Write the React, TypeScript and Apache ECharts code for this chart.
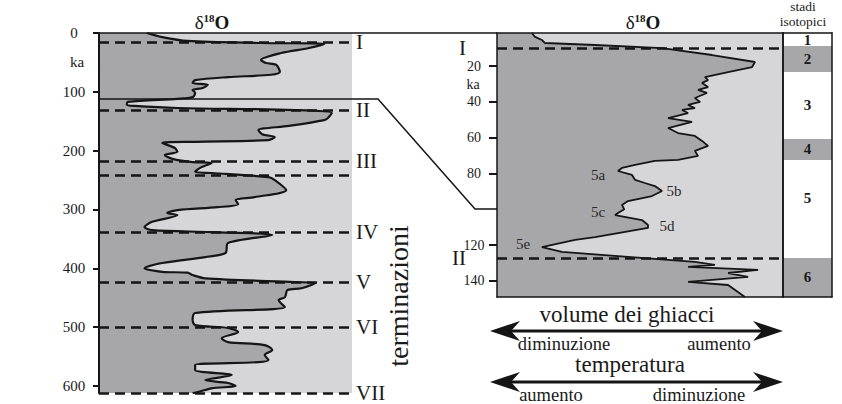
import React, { useEffect, useRef } from 'react';
import * as echarts from 'echarts';

// ---- Data: left panel (0–612 ka) δ18O curve, x = relative δ18O (0–100), y = age (ka)
const leftDelta = [19, 25, 35, 64, 89, 83, 72, 64, 66, 70, 71.5, 68, 51, 38, 37, 43, 41, 37, 38, 37, 31, 11.5, 11, 14, 31, 77.5, 92, 90.5, 89, 75, 63, 64.5, 69.5, 67, 38, 25, 30, 31, 26, 29, 37, 44.5, 40.5, 38, 44.5, 67, 69.5, 74, 61.5, 54, 55, 47, 31, 27, 31, 21, 18, 21, 44.5, 68.5, 51, 50, 42, 25, 18, 25, 35, 37, 42, 77.5, 85.5, 80, 74.5, 73.5, 71, 73.5, 38, 37, 38, 51, 55, 48.5, 51, 65.5, 68.5, 65.5, 67, 63, 38, 38, 52.5, 42, 51, 54, 44.5, 39, 37];
const leftAge = [0, 7, 13.5, 17, 18.7, 25.5, 34, 46, 51, 54, 66, 71, 75, 80, 85, 88, 93.5, 97, 102, 109, 112, 117, 122, 124, 127.5, 131, 136, 144.5, 148, 158, 165, 172, 177, 182, 185, 187, 195.5, 202, 207.5, 214, 219.5, 221, 228, 236, 238, 245, 250, 267, 279, 284, 291, 296, 301, 306, 309.5, 321, 330, 335, 338.5, 343.5, 357, 374, 381, 391, 400, 406, 407.5, 411.5, 417, 423.5, 425, 434, 437, 449, 454, 466, 476, 488, 496.5, 501.5, 508.5, 519, 525.5, 530.5, 539, 547.5, 556, 559.5, 564.5, 573, 581.5, 590, 595, 600, 604, 610.5, 612];
const leftTicks = [0, 100, 200, 300, 400, 500, 600];
const leftTermNames = ['I', 'II', 'III', '', 'IV', 'V', 'VI', 'VII'];
const leftTermAges = [15.3, 131, 218, 241.5, 338, 423.5, 500, 612];

// ---- Data: right panel (last ~150 ka)
const rightDelta = [12.2, 13.3, 15.7, 16.8, 34.3, 57.7, 75.2, 90.2, 89.2, 80.8, 72.7, 73.8, 71.7, 73.8, 70.3, 73.4, 69.2, 71.0, 66.8, 69.2, 64.7, 66.8, 59.8, 68.2, 59.8, 63.3, 69.2, 71.7, 73.8, 69.2, 70.3, 63.3, 55.2, 48.3, 43.7, 42.3, 47.2, 48.3, 51.7, 55.2, 57.7, 54.2, 45.8, 43.7, 44.5, 42.3, 41.3, 50.7, 52.8, 52.8, 34.3, 27.3, 15.7, 22.7, 45.8, 69.2, 76.2, 66.8, 91.3, 80.8, 87.8, 66.8, 80.8, 86.7];
const rightAge = [1.5, 3.7, 5.4, 7.1, 8.2, 9.9, 13.8, 17.7, 20.5, 23.3, 26.1, 27.8, 29.4, 31.7, 33.3, 35.0, 37.8, 40.0, 41.7, 43.4, 44.5, 46.2, 49.0, 51.2, 54.6, 57.4, 59.0, 61.8, 64.6, 67.4, 70.2, 72.4, 73.0, 75.2, 76.9, 78.6, 80.8, 83.6, 85.3, 87.0, 89.8, 92.6, 95.4, 97.6, 100.0, 102.1, 103.2, 106.0, 108.8, 110.4, 115.5, 117.1, 121.1, 123.8, 126.6, 129.4, 131.1, 132.2, 133.9, 135.6, 137.8, 140.6, 142.3, 149];
const rightTicks = [20, 40, 60, 80, 120, 140];
const rightTermNames = ['I', 'II'];
const rightTermAges = [9.9, 127.2];
const substageNames = ['5a', '5b', '5c', '5d', '5e'];
const substageDelta = [35.3, 61.9, 35.3, 59.4, 9.1];
const substageAge = [80.8, 89.8, 101.5, 109.3, 119.4];

// ---- Data: isotope stages
const stageNames = ['1', '2', '3', '4', '5', '6'];
const stageStart = [1.5, 8.8, 23.3, 60.7, 72.4, 127.2];
const stageEnd = [8.8, 23.3, 60.7, 72.4, 127.2, 149];
const stageShaded = [false, true, false, true, false, true];

const SERIF = 'Liberation Serif';
const DARK = '#a7a7a9';
const LIGHT = '#d6d6d8';
const INK = '#151515';

function fillSeries(xi: number, yi: number, deltas: number[], ages: number[]) {
  return {
    type: 'custom',
    xAxisIndex: xi,
    yAxisIndex: yi,
    silent: true,
    z: 1,
    data: [[0, ages[0]]],
    renderItem: (_p: any, api: any) => {
      const pts = deltas.map((d, i) => api.coord([d, ages[i]]));
      pts.push(api.coord([0, ages[ages.length - 1]]));
      pts.push(api.coord([0, ages[0]]));
      return { type: 'polygon', shape: { points: pts }, style: { fill: DARK, stroke: 'none' } };
    },
  };
}

function borderAxis(grid: number, pos: string) {
  return {
    type: 'value',
    gridIndex: grid,
    position: pos,
    min: 0,
    max: 1,
    z: 6,
    axisLine: { show: true, onZero: false, lineStyle: { color: INK, width: 1.5 } },
    axisTick: { show: false },
    axisLabel: { show: false },
    splitLine: { show: false },
  } as any;
}

const ttl = (x: number) => ({
  type: 'text',
  x,
  y: 22,
  z: 100,
  style: {
    text: '{a|δ}{b|18}{c|O}',
    align: 'center',
    verticalAlign: 'middle',
    textAlign: 'center',
    textVerticalAlign: 'middle',
    fill: INK,
    fontFamily: SERIF,
    rich: {
      a: { fontFamily: SERIF, fontSize: 19, fill: INK, color: INK },
      b: { fontFamily: SERIF, fontSize: 11, fontWeight: 'bold', verticalAlign: 'top', fill: INK, color: INK },
      c: { fontFamily: SERIF, fontSize: 19, fontWeight: 'bold', fill: INK, color: INK },
    },
  },
});

const txt = (text: string, x: number, y: number, size: number, extra: any = {}) => ({
  type: 'text',
  x,
  y,
  z: 100,
  ...extra,
  style: {
    text,
    font: `${size}px ${SERIF}`,
    fontFamily: SERIF,
    fontSize: size,
    fill: '#1a1a1a',
    align: 'center',
    verticalAlign: 'middle',
    textAlign: 'center',
    textVerticalAlign: 'middle',
  },
});

const arrow = (y: number) => [
  { type: 'line', z: 100, shape: { x1: 505, y1: y, x2: 768, y2: y }, style: { stroke: INK, lineWidth: 3 } },
  { type: 'polygon', z: 100, shape: { points: [[490, y], [520, y - 10], [511, y], [520, y + 10]] }, style: { fill: INK } },
  { type: 'polygon', z: 100, shape: { points: [[783, y], [753, y - 10], [762, y], [753, y + 10]] }, style: { fill: INK } },
];

export default function App() {
  const ref = useRef<HTMLDivElement>(null);
  useEffect(() => {
    document.body.style.margin = '0';
    const chart = echarts.init(ref.current!, null, { renderer: 'svg' });
    const option: any = {
      animation: false,
      textStyle: { fontFamily: SERIF },
      grid: [
        { left: 99, top: 33, width: 253, height: 360, show: true, backgroundColor: LIGHT, borderWidth: 0 },
        { left: 497, top: 33, width: 286, height: 264, show: true, backgroundColor: LIGHT, borderWidth: 0 },
        { left: 783, top: 33, width: 49, height: 264, show: true, backgroundColor: '#ffffff', borderWidth: 0 },
      ],
      xAxis: [
        { type: 'value', gridIndex: 0, min: 0, max: 100, show: false },
        { ...borderAxis(1, 'bottom'), max: 100 },
        borderAxis(1, 'top'),
        borderAxis(2, 'bottom'),
        borderAxis(2, 'top'),
      ],
      yAxis: [
        {
          type: 'value', gridIndex: 0, min: 0, max: 612, inverse: true, z: 6,
          axisLine: { show: true, onZero: false, lineStyle: { color: INK, width: 2 } },
          axisTick: { show: true, length: 6, lineStyle: { color: INK, width: 2 }, customValues: leftTicks },
          axisLabel: { customValues: leftTicks, fontFamily: SERIF, fontSize: 15, color: '#1a1a1a', align: 'center', margin: 25 },
          splitLine: { show: false },
        },
        {
          type: 'value', gridIndex: 1, min: 1.5, max: 149, inverse: true, z: 6,
          axisLine: { show: true, onZero: false, lineStyle: { color: INK, width: 1.5 } },
          axisTick: { show: true, length: 8, lineStyle: { color: INK, width: 2 }, customValues: rightTicks },
          axisLabel: { customValues: rightTicks, fontFamily: SERIF, fontSize: 14, color: '#1a1a1a', align: 'center', margin: 23 },
          splitLine: { show: false },
        },
        borderAxis(1, 'right'),
        { ...borderAxis(2, 'left'), min: 1.5, max: 149, inverse: true },
        borderAxis(2, 'right'),
      ],
      series: [
        fillSeries(0, 0, leftDelta, leftAge),
        {
          type: 'line', xAxisIndex: 0, yAxisIndex: 0, z: 3, silent: true,
          data: leftDelta.map((d, i) => [d, leftAge[i]]),
          smooth: 0.3, symbol: 'none', showSymbol: false,
          lineStyle: { color: INK, width: 2.2 },
          markLine: {
            silent: true, symbol: ['none', 'none'], animation: false,
            lineStyle: { color: INK, type: [10, 6], width: 2.5 },
            label: { show: true, position: 'end', formatter: '{b}', fontFamily: SERIF, fontSize: 21, color: '#1a1a1a', distance: 4 },
            emphasis: { disabled: true },
            data: leftTermAges.map((a, i) => ({ yAxis: a, name: leftTermNames[i] })),
          },
        },
        fillSeries(1, 1, rightDelta, rightAge),
        {
          type: 'line', xAxisIndex: 1, yAxisIndex: 1, z: 3, silent: true,
          data: rightDelta.map((d, i) => [d, rightAge[i]]),
          symbol: 'none', showSymbol: false,
          lineStyle: { color: INK, width: 1.8 },
          markLine: {
            silent: true, symbol: ['none', 'none'], animation: false,
            lineStyle: { color: INK, type: [10, 6], width: 2.5 },
            label: { show: true, position: 'start', formatter: '{b}', fontFamily: SERIF, fontSize: 21, color: '#1a1a1a', distance: 31 },
            emphasis: { disabled: true },
            data: rightTermAges.map((a, i) => ({ yAxis: a, name: rightTermNames[i] })),
          },
          markPoint: {
            silent: true, symbol: 'circle', symbolSize: 1, animation: false,
            itemStyle: { color: 'rgba(0,0,0,0)' },
            label: { show: true, position: 'inside', formatter: '{b}', fontFamily: SERIF, fontSize: 15, color: '#2a2a2a' },
            data: substageNames.map((n, i) => ({ name: n, coord: [substageDelta[i], substageAge[i]] })),
          },
        },
        {
          type: 'line', xAxisIndex: 3, yAxisIndex: 3, silent: true, z: 2,
          data: [[0.5, 1.5]], symbol: 'none', showSymbol: false, lineStyle: { width: 0 },
          markArea: {
            silent: true, animation: false,
            label: { show: true, position: 'inside', formatter: '{b}', fontFamily: SERIF, fontSize: 15, fontWeight: 'bold', color: '#1a1a1a' },
            emphasis: { disabled: true },
            data: stageNames.map((n, i) => [
              {
                name: n,
                yAxis: stageStart[i],
                itemStyle: { color: stageShaded[i] ? DARK : 'rgba(255,255,255,0)' },
                label: n === '5' ? { offset: [0, -11] } : undefined,
              },
              { yAxis: stageEnd[i] },
            ]),
          },
        },
      ],
      graphic: [
        { type: 'line', z: 100, shape: { x1: 99, y1: 33, x2: 497, y2: 33 }, style: { stroke: INK, lineWidth: 1.5 } },
        { type: 'polyline', z: 100, shape: { points: [[99, 99], [378, 99], [475, 209], [497, 209]] }, style: { stroke: INK, lineWidth: 1.5, fill: 'none' } },
        ttl(212),
        ttl(643),
        txt('stadi', 803, 6, 13.5),
        txt('isotopici', 803, 21, 13.5),
        txt('ka', 77, 62, 15),
        txt('ka', 473, 84, 14),
        txt('terminazioni', 398, 296, 28, { rotation: Math.PI / 2 }),
        txt('volume dei ghiacci', 627, 314, 23),
        txt('diminuzione', 564, 344, 18.5),
        txt('aumento', 719, 344, 18.5),
        txt('temperatura', 630, 364, 23),
        txt('aumento', 551, 395, 18.5),
        txt('diminuzione', 699, 395, 18.5),
        ...arrow(331),
        ...arrow(382),
      ],
    };
    chart.setOption(option);
    return () => chart.dispose();
  }, []);
  return <div ref={ref} style={{ width: 842, height: 404 }} />;
}
